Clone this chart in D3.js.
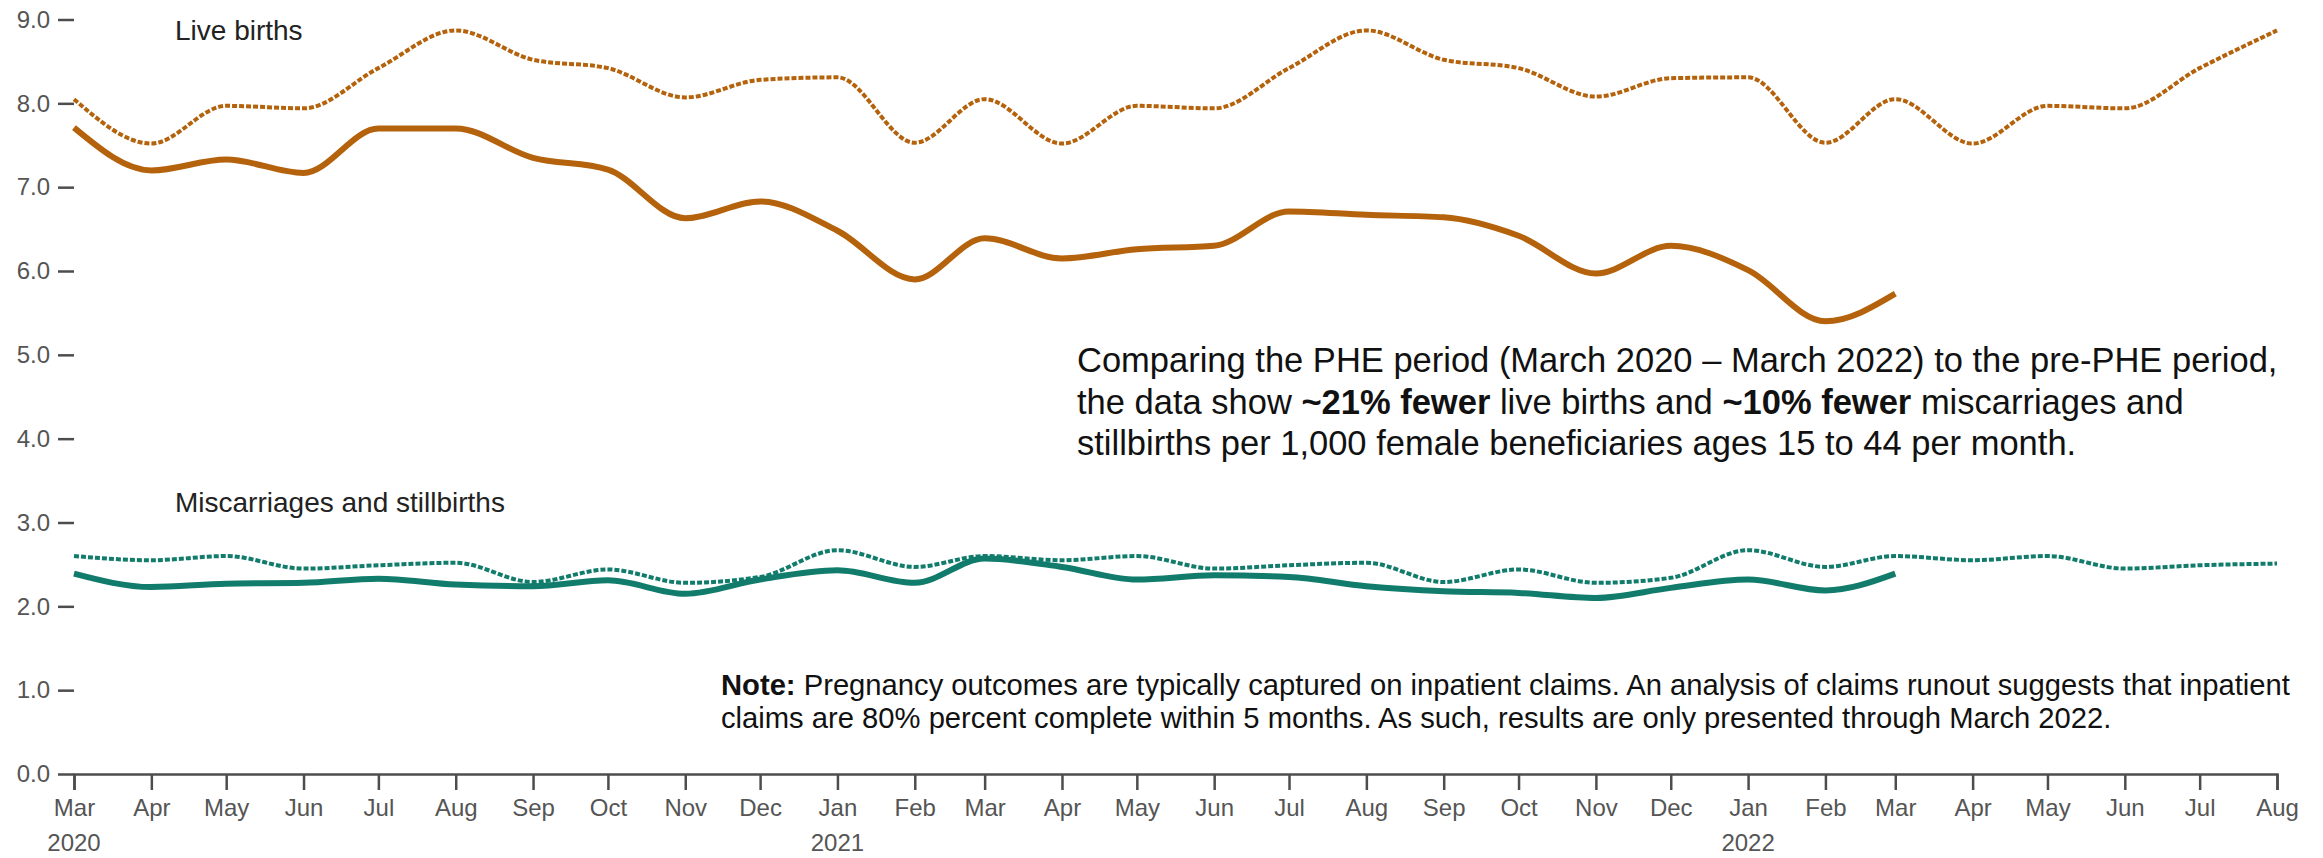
<!DOCTYPE html>
<html>
<head>
<meta charset="utf-8">
<script src="https://d3js.org/d3.v7.min.js"></script>
<style>
  body { margin: 0; background: #fff; }
  svg text { font-family: "Liberation Sans", Arial, sans-serif; }
</style>
</head>
<body>
<div id="graphic"></div>
<script>
/*** DATA ***/
var months = ["2020-03", "2020-04", "2020-05", "2020-06", "2020-07", "2020-08", "2020-09", "2020-10", "2020-11", "2020-12",
  "2021-01", "2021-02", "2021-03", "2021-04", "2021-05", "2021-06", "2021-07", "2021-08", "2021-09", "2021-10", "2021-11", "2021-12",
  "2022-01", "2022-02", "2022-03", "2022-04", "2022-05", "2022-06", "2022-07", "2022-08"];

// pre-PHE comparison (dashed), Mar 2020 - Aug 2022
var liveBirthsPre = [8.05, 7.52, 7.97, 7.94, 8.42, 8.87, 8.52, 8.42, 8.07, 8.28,
  8.31, 7.53, 8.05, 7.52, 7.97, 7.94, 8.42, 8.87, 8.52, 8.42, 8.08, 8.30,
  8.31, 7.53, 8.05, 7.52, 7.97, 7.94, 8.42, 8.87];
var miscPre = [2.60, 2.55, 2.60, 2.45, 2.49, 2.52, 2.29, 2.44, 2.28, 2.35,
  2.67, 2.47, 2.60, 2.55, 2.60, 2.45, 2.49, 2.52, 2.29, 2.44, 2.28, 2.34,
  2.67, 2.47, 2.60, 2.55, 2.60, 2.45, 2.49, 2.51];

// PHE period (solid), Mar 2020 - Mar 2022
var liveBirthsPHE = [7.71, 7.20, 7.33, 7.17, 7.70, 7.70, 7.35, 7.21, 6.63, 6.83,
  6.48, 5.90, 6.39, 6.15, 6.26, 6.30, 6.71, 6.67, 6.64, 6.42, 5.97, 6.30,
  6.01, 5.40, 5.73];
var miscPHE = [2.39, 2.23, 2.27, 2.28, 2.33, 2.26, 2.24, 2.31, 2.15, 2.32,
  2.43, 2.28, 2.57, 2.47, 2.32, 2.37, 2.35, 2.24, 2.18, 2.16, 2.10, 2.22,
  2.32, 2.19, 2.39];

var yTicks = [0, 1, 2, 3, 4, 5, 6, 7, 8, 9];
var yearLabels = [["2020-03", "2020"], ["2021-01", "2021"], ["2022-01", "2022"]];

var seriesLabels = [
  { text: "Live births", value: 8.75 },
  { text: "Miscarriages and stillbirths", value: 3.12 }
];

var summaryLines = [
  [["Comparing the PHE period (March 2020 \u2013 March 2022) to the pre-PHE period,", false]],
  [["the data show ", false], ["~21% fewer", true], [" live births and ", false], ["~10% fewer", true], [" miscarriages and", false]],
  [["stillbirths per 1,000 female beneficiaries ages 15 to 44 per month.", false]]
];
var noteLines = [
  [["Note:", true], [" Pregnancy outcomes are typically captured on inpatient claims. An analysis of claims runout suggests that inpatient", false]],
  [["claims are 80% percent complete within 5 months. As such, results are only presented through March 2022.", false]]
];

(function() {
  var totalWidth = 2323, totalHeight = 858;
  var margin = { top: 19.5, left: 74, right: 46, bottom: 84 },
  width = totalWidth - margin.left - margin.right,
  height = totalHeight - margin.top - margin.bottom;

  var orange = "#b5620c";
  var teal = "#127c6c";
  var axisColor = "#4d4d4d";

  var svg = d3.select("#graphic")
        .append("svg")
        .attr("width", totalWidth)
        .attr("height", totalHeight)
        .append("g")
        .attr("transform", "translate(" + margin.left + "," + margin.top + ")");

  var parseMonth = d3.timeParse("%Y-%m");
  var dates = months.map(parseMonth);

  /*** SCALES ***/
  var x = d3.scaleTime().domain(d3.extent(dates)).range([0, width]);
  var y = d3.scaleLinear().domain([0, 9]).range([height, 0]);

  /*** AXES ***/
  var yAxis = svg.append("g")
    .attr("class", "axis axisY")
    .call(d3.axisLeft(y).tickValues(yTicks).tickFormat(d3.format(".1f")).tickSize(16).tickPadding(8));
  yAxis.select(".domain").remove();

  var xAxis = svg.append("g")
    .attr("class", "axis axisX")
    .attr("transform", "translate(0," + height + ")")
    .call(d3.axisBottom(x).ticks(d3.timeMonth.every(1)).tickFormat(d3.timeFormat("%b")).tickSize(16).tickPadding(9));

  svg.selectAll(".axis text")
    .attr("fill", "#555")
    .style("font-size", "24px");
  svg.selectAll(".axis line, .axis .domain")
    .attr("stroke", axisColor)
    .attr("stroke-width", 2.5);

  xAxis.selectAll(".yearLabel")
    .data(yearLabels).enter().append("text")
    .attr("class", "yearLabel")
    .attr("x", function(d) { return x(parseMonth(d[0])); })
    .attr("y", 77)
    .attr("text-anchor", "middle")
    .attr("fill", "#555")
    .style("font-size", "24px")
    .text(function(d) { return d[1]; });

  /*** LINES ***/
  var line = d3.line()
    .x(function(d, i) { return x(dates[i]); })
    .y(function(d) { return y(d); })
    .curve(d3.curveMonotoneX);

  var lines = [
    { values: liveBirthsPre, color: orange, dashed: true },
    { values: miscPre, color: teal, dashed: true },
    { values: liveBirthsPHE, color: orange, dashed: false },
    { values: miscPHE, color: teal, dashed: false }
  ];

  svg.selectAll(".seriesLine")
    .data(lines).enter().append("path")
    .attr("class", "seriesLine")
    .attr("d", function(d) { return line(d.values); })
    .attr("fill", "none")
    .attr("stroke", function(d) { return d.color; })
    .attr("stroke-width", function(d) { return d.dashed ? 4 : 6; })
    .attr("stroke-dasharray", function(d) { return d.dashed ? "5,2" : null; })
    .attr("stroke-linejoin", "round");

  /*** SERIES LABELS ***/
  svg.selectAll(".seriesLabel")
    .data(seriesLabels).enter().append("text")
    .attr("class", "seriesLabel")
    .attr("x", 101)
    .attr("y", function(d) { return y(d.value); })
    .attr("fill", "#222")
    .style("font-size", "28px")
    .text(function(d) { return d.text; });

  /*** TEXT BLOCKS ***/
  function textBlock(rows, left, top, lineHeight, size) {
    var t = svg.append("text")
      .attr("x", left)
      .attr("y", top)
      .attr("fill", "#111")
      .style("font-size", size + "px");
    rows.forEach(function(row, i) {
      row.forEach(function(part, j) {
        var span = t.append("tspan")
          .style("font-weight", part[1] ? "bold" : "normal")
          .text(part[0]);
        if (j === 0) {
          span.attr("x", left).attr("y", top + i * lineHeight);
        }
      });
    });
  }

  textBlock(summaryLines, 1077 - margin.left, 372 - margin.top, 41.5, 34.5);
  textBlock(noteLines, 721 - margin.left, 695 - margin.top, 33, 29.2);
})();
</script>
</body>
</html>
